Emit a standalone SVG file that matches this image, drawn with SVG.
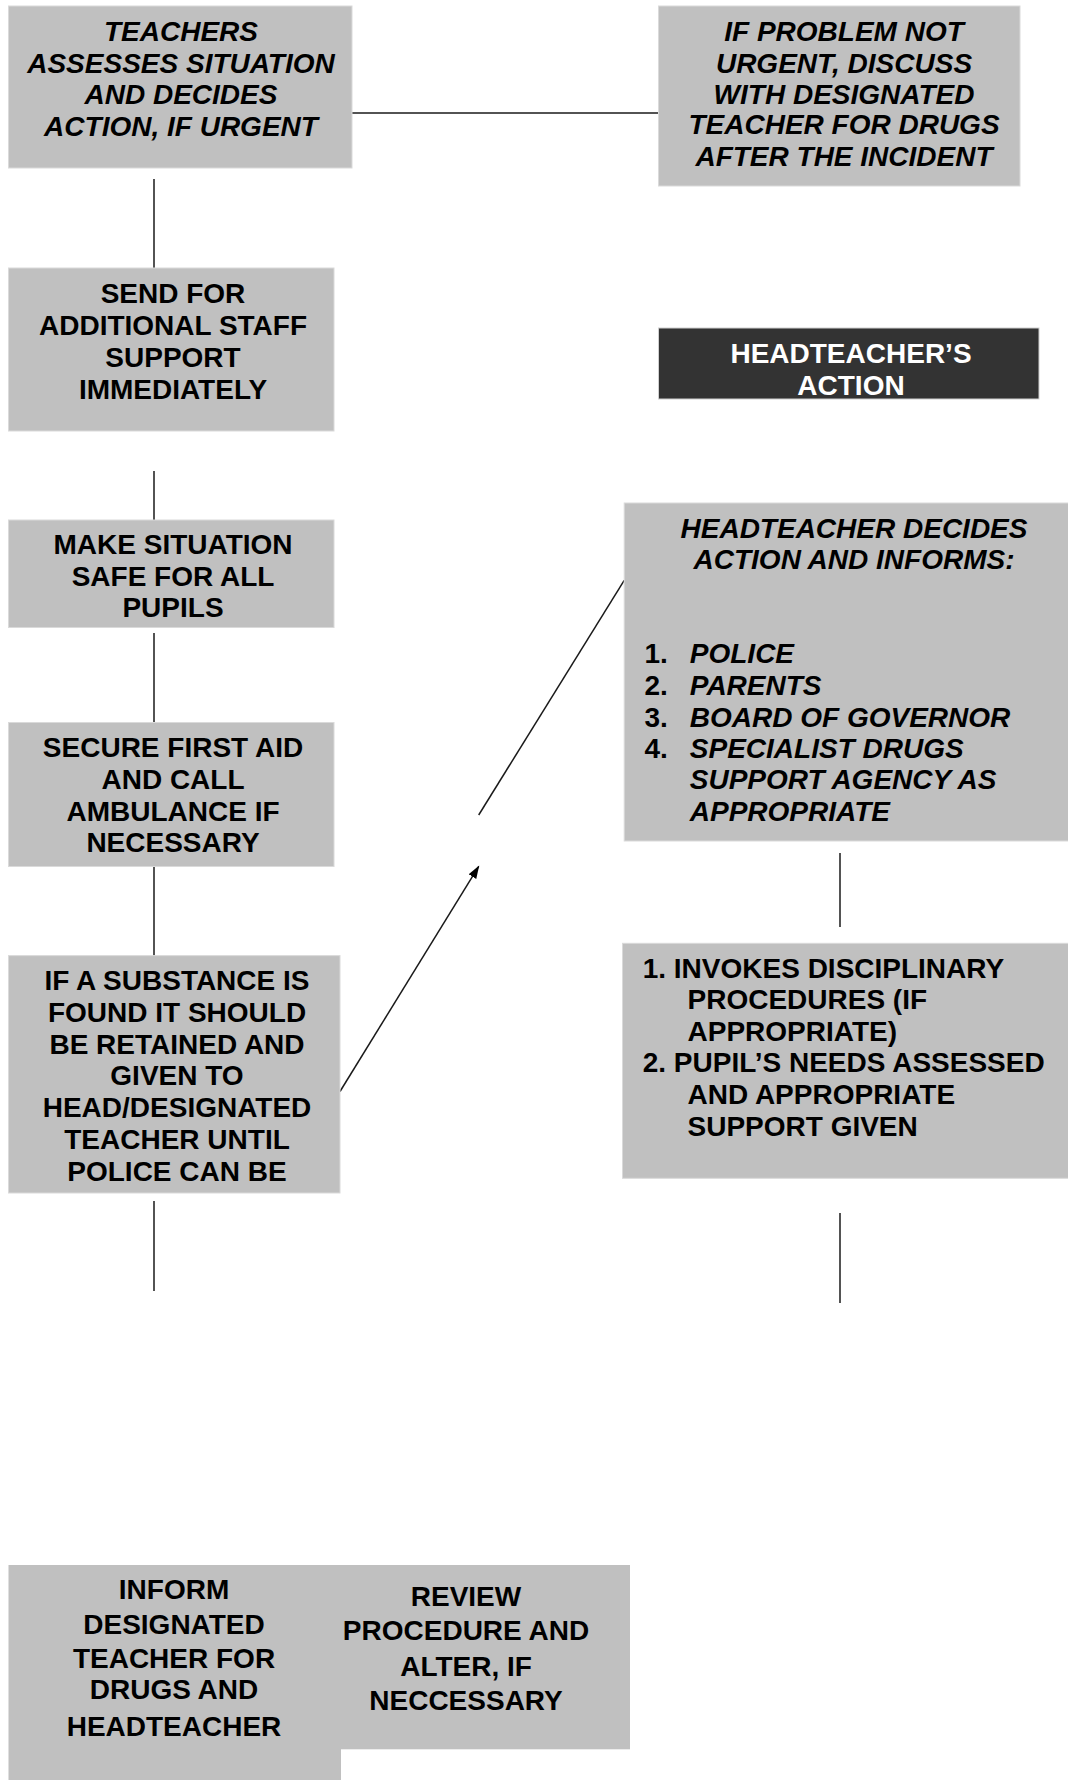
<svg xmlns="http://www.w3.org/2000/svg" width="1068" height="1780" viewBox="0 0 1068 1780">
  <style>
    .box { fill: #c0c0c0; stroke: #dadada; stroke-width: 1; }
    .flat { fill: #c0c0c0; stroke: none; }
    .dark { fill: #333333; stroke: #cfcfcf; stroke-width: 1; }
    .t { font-family: "Liberation Sans", Arial, sans-serif; font-size: 28px; font-weight: bold; fill: #000; }
    .c { text-anchor: middle; }
    .i { font-style: italic; }
    .w { fill: #ffffff; }
    .ln { stroke: #1a1a1a; stroke-width: 1.5; fill: none; }
  </style>
  <defs>
    <marker id="arrow" markerUnits="userSpaceOnUse" markerWidth="14" markerHeight="10" refX="12" refY="4.5" orient="auto">
      <path d="M0,0 L13,4.5 L0,9 z" fill="#000"/>
    </marker>
  </defs>
  <rect width="1068" height="1780" fill="#ffffff"/>

  <g id="connectors">
    <line class="ln" x1="352" y1="113" x2="658" y2="113"/>
    <line class="ln" x1="154" y1="179" x2="154" y2="268"/>
    <line class="ln" x1="154" y1="471" x2="154" y2="520"/>
    <line class="ln" x1="154" y1="633" x2="154" y2="722"/>
    <line class="ln" x1="154" y1="866" x2="154" y2="956"/>
    <line class="ln" x1="154" y1="1201" x2="154" y2="1291"/>
    <line class="ln" x1="340" y1="1091.5" x2="478.7" y2="866.4" marker-end="url(#arrow)"/>
    <line class="ln" x1="478.7" y1="815" x2="624.2" y2="580.4"/>
    <line class="ln" x1="840" y1="853" x2="840" y2="927"/>
    <line class="ln" x1="840" y1="1213" x2="840" y2="1303"/>
  </g>

  <g id="n1">
    <rect class="box" x="8.5" y="6" width="343.5" height="162"/>
    <text class="t c i" x="181" y="41">TEACHERS</text>
    <text class="t c i" x="181" y="72.5">ASSESSES SITUATION</text>
    <text class="t c i" x="181" y="104">AND DECIDES</text>
    <text class="t c i" x="181" y="135.5">ACTION, IF URGENT</text>
  </g>

  <g id="n2">
    <rect class="box" x="658.5" y="6" width="361.5" height="180"/>
    <text class="t c i" x="844" y="41">IF PROBLEM NOT</text>
    <text class="t c i" x="844" y="72.5">URGENT, DISCUSS</text>
    <text class="t c i" x="844" y="103.5">WITH DESIGNATED</text>
    <text class="t c i" x="844" y="134">TEACHER FOR DRUGS</text>
    <text class="t c i" x="844" y="165.5">AFTER THE INCIDENT</text>
  </g>

  <g id="n3">
    <rect class="box" x="8.5" y="268" width="325.5" height="163"/>
    <text class="t c" x="173" y="303">SEND FOR</text>
    <text class="t c" x="173" y="335">ADDITIONAL STAFF</text>
    <text class="t c" x="173" y="367">SUPPORT</text>
    <text class="t c" x="173" y="399">IMMEDIATELY</text>
  </g>

  <g id="n4">
    <rect class="box" x="8.5" y="520" width="325.5" height="107.5"/>
    <text class="t c" x="173" y="554">MAKE SITUATION</text>
    <text class="t c" x="173" y="585.7">SAFE FOR ALL</text>
    <text class="t c" x="173" y="617.3">PUPILS</text>
  </g>

  <g id="n5">
    <rect class="box" x="8.5" y="722.5" width="325.5" height="144"/>
    <text class="t c" x="173" y="757">SECURE FIRST AID</text>
    <text class="t c" x="173" y="789">AND CALL</text>
    <text class="t c" x="173" y="820.8">AMBULANCE IF</text>
    <text class="t c" x="173" y="852.3">NECESSARY</text>
  </g>

  <g id="n6">
    <rect class="box" x="8.5" y="955.6" width="331.5" height="237.4"/>
    <text class="t c" x="177" y="990">IF A SUBSTANCE IS</text>
    <text class="t c" x="177" y="1022">FOUND IT SHOULD</text>
    <text class="t c" x="177" y="1053.5">BE RETAINED AND</text>
    <text class="t c" x="177" y="1085.3">GIVEN TO</text>
    <text class="t c" x="177" y="1117.2">HEAD/DESIGNATED</text>
    <text class="t c" x="177" y="1148.8">TEACHER UNTIL</text>
    <text class="t c" x="177" y="1180.7">POLICE CAN BE</text>
  </g>

  <g id="n7">
    <rect class="dark" x="658.5" y="328" width="380.5" height="71"/>
    <text class="t c w" x="851" y="362.5">HEADTEACHER’S</text>
    <text class="t c w" x="851" y="394.6">ACTION</text>
  </g>

  <g id="n8">
    <rect class="box" x="624.2" y="503" width="450" height="338"/>
    <text class="t c i" x="854" y="537.5">HEADTEACHER DECIDES</text>
    <text class="t c i" x="854" y="568.6">ACTION AND INFORMS:</text>
    <text class="t" x="644.4" y="663.2">1.</text>
    <text class="t i" x="689.8" y="663.2">POLICE</text>
    <text class="t" x="644.4" y="694.6">2.</text>
    <text class="t i" x="689.8" y="694.6">PARENTS</text>
    <text class="t" x="644.4" y="726.8">3.</text>
    <text class="t i" x="689.8" y="726.8">BOARD OF GOVERNOR</text>
    <text class="t" x="644.4" y="758.2">4.</text>
    <text class="t i" x="689.8" y="758.2">SPECIALIST DRUGS</text>
    <text class="t i" x="689.8" y="789.3">SUPPORT AGENCY AS</text>
    <text class="t i" x="689.8" y="821.4">APPROPRIATE</text>
  </g>

  <g id="n9">
    <rect class="box" x="622.5" y="943.3" width="450" height="235"/>
    <text class="t" x="642.7" y="978.3">1. INVOKES DISCIPLINARY</text>
    <text class="t" x="687.5" y="1009.3">PROCEDURES (IF</text>
    <text class="t" x="687.5" y="1041">APPROPRIATE)</text>
    <text class="t" x="642.7" y="1071.7">2. PUPIL’S NEEDS ASSESSED</text>
    <text class="t" x="687.5" y="1104">AND APPROPRIATE</text>
    <text class="t" x="687.5" y="1135.7">SUPPORT GIVEN</text>
  </g>

  <g id="n10">
    <rect class="flat" x="8.5" y="1565" width="332.5" height="220"/>
    <text class="t c" x="174" y="1599">INFORM</text>
    <text class="t c" x="174" y="1634">DESIGNATED</text>
    <text class="t c" x="174" y="1668">TEACHER FOR</text>
    <text class="t c" x="174" y="1699">DRUGS AND</text>
    <text class="t c" x="174" y="1736">HEADTEACHER</text>
  </g>

  <g id="n11">
    <rect class="flat" x="340.5" y="1565" width="289.5" height="184.3"/>
    <text class="t c" x="466" y="1606">REVIEW</text>
    <text class="t c" x="466" y="1639.5">PROCEDURE AND</text>
    <text class="t c" x="466" y="1675.5">ALTER, IF</text>
    <text class="t c" x="466" y="1710">NECCESSARY</text>
  </g>
</svg>
